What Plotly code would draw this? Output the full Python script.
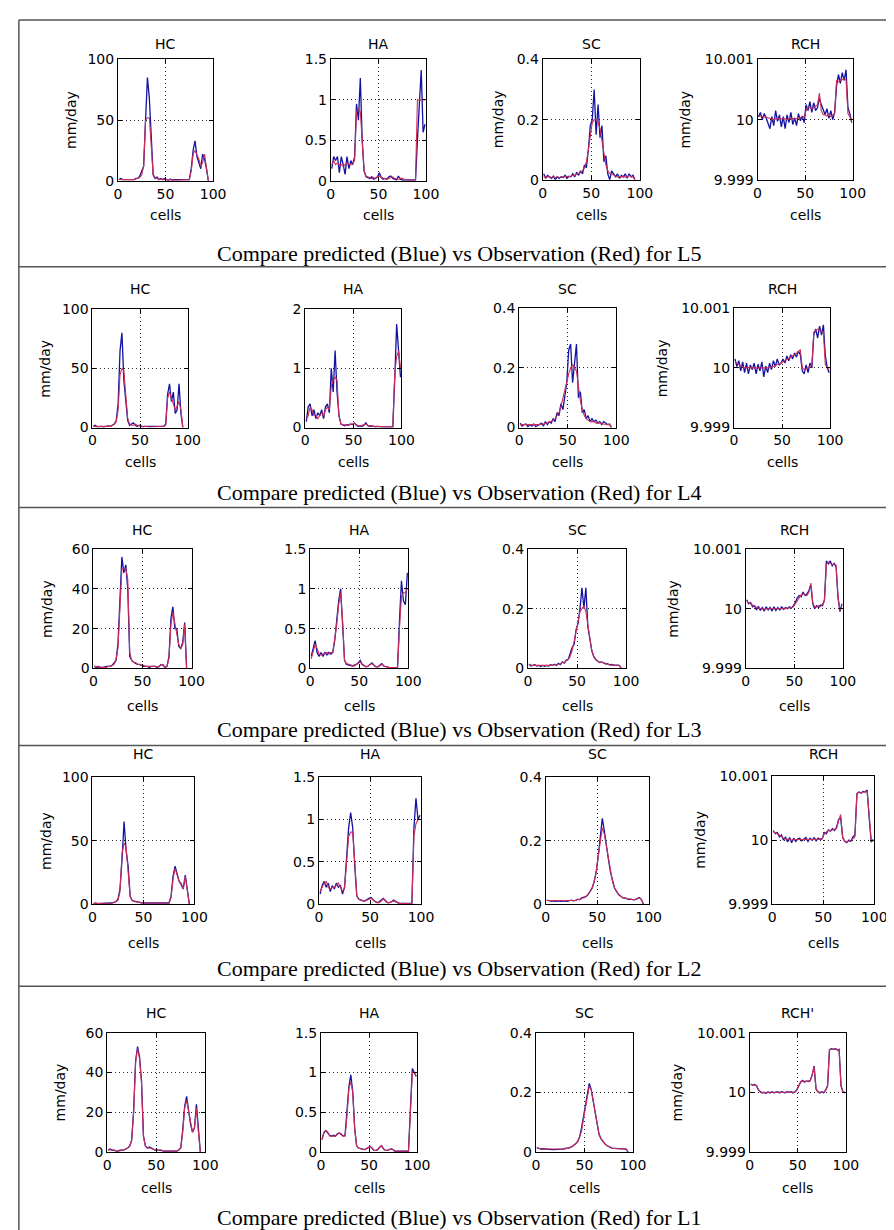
import plotly.graph_objects as go

W, H = 894, 1230

# ---------------- data ----------------
cells = list(range(1, 101, 2))
layers = ["L5", "L4", "L3", "L2", "L1"]
variables = ["HC", "HA", "SC", "RCH"]
titles_l1 = ["HC", "HA", "SC", "RCH'"]

x_ticks = [0, 50, 100]
hc_ticks_100 = [0, 50, 100]
hc_ticks_60 = [0, 20, 40, 60]
ha_ticks_15 = [0, 0.5, 1, 1.5]
ha_ticks_2 = [0, 1, 2]
sc_ticks = [0, 0.2, 0.4]
rch_ticks = [9.999, 10, 10.001]
rch_tick_labels = ["9.999", "10", "10.001"]

# ---- L5 ----
hc_l5_obs = [1, 1, 1, 0.5, 0.5, 0.5, 0.5, 1, 1, 1.5,
             2, 3, 5, 12, 50, 52, 52, 25, 5, 3,
             2, 1, 1.5, 1, 1, 1, 0.5, 1, 0.5, 0.5,
             0.5, 0.5, 0.5, 0.5, 0.5, 0.5, 0.5, 1, 8, 22,
             25, 22, 18, 12, 15, 22, 12, 0, None, None]
hc_l5_pred = [1, 2, 1, 1, 0.5, 1, 1, 0.5, 1, 2,
              2, 4, 8, 12, 50, 85, 68, 30, 5, 2,
              3, 1, 2, 1, 2, 1, 0.5, 1.5, 0.5, 1,
              1, 0.5, 0.5, 1, 0.5, 0.5, 1, 1, 10, 25,
              33, 20, 15, 10, 22, 18, 10, 0, None, None]
ha_l5_obs = [0.2, 0.25, 0.2, 0.22, 0.2, 0.2, 0.18, 0.2, 0.22, 0.2,
             0.2, 0.22, 0.25, 0.85, 0.9, 0.85, 0.5, 0.12, 0.06, 0.05,
             0.04, 0.03, 0.04, 0.03, 0.05, 0.06, 0.04, 0.03, 0.02, 0.02,
             0.03, 0.04, 0.05, 0.03, 0.02, 0.02, 0.03, 0.03, 0.02, 0.01,
             0.01, 0.01, 0.01, 0.01, 0.01, 1.0, 1.0, 1.0, 1.0, 1.0]
ha_l5_pred = [0.15, 0.3, 0.25, 0.3, 0.1, 0.3, 0.2, 0.08, 0.3, 0.15,
              0.25, 0.2, 0.3, 0.95, 0.75, 1.27, 0.5, 0.12, 0.05, 0.04,
              0.03, 0.05, 0.02, 0.03, 0.05, 0.1, 0.04, 0.02, 0.03, 0.02,
              0.05, 0.06, 0.03, 0.02, 0.01, 0.06, 0.02, 0.01, 0.01, 0.01,
              0.01, 0.01, 0.01, 0.01, 0.01, 0.5, 0.9, 1.37, 0.6, 0.7]
sc_l5_obs = [0.01, 0.01, 0.012, 0.01, 0.008, 0.01, 0.008, 0.01, 0.008, 0.008,
             0.01, 0.01, 0.012, 0.01, 0.012, 0.015, 0.015, 0.02, 0.02, 0.025,
             0.03, 0.04, 0.06, 0.1, 0.15, 0.19, 0.2, 0.2, 0.19, 0.17,
             0.13, 0.09, 0.05, 0.03, 0.02, 0.02, 0.015, 0.012, 0.01, 0.012,
             0.01, 0.01, 0.012, 0.01, 0.015, 0.01, 0.01, 0.0, None, None]
sc_l5_pred = [0.02, 0.005, 0.015, 0.01, 0.005, 0.012, 0.0, 0.01, 0.005, 0.01,
              0.008, 0.015, 0.005, 0.012, 0.01, 0.02, 0.01, 0.025, 0.015, 0.03,
              0.02, 0.05, 0.04, 0.1, 0.18, 0.2, 0.3, 0.15, 0.25, 0.14,
              0.18, 0.06, 0.08, 0.02, 0.0, 0.03, 0.02, 0.01, 0.02, 0.005,
              0.015, 0.01, 0.02, 0.005, 0.02, 0.01, 0.015, 0.0, None, None]
rch_l5_obs = [10.00005, 10.00006, 10.00005, 10.00005, 10.00004, 10.00003, 10.00002, 10.00001, 10.0, 10.00001,
              10.00002, 10.00002, 10.00001, 10.00002, 10.00001, 10.0, 10.00001, 10.00002, 10.00002, 10.00001,
              10.00002, 10.00002, 10.00003, 10.00004, 10.00005, 10.00015, 10.0002, 10.0002, 10.00018, 10.0002,
              10.00022, 10.00025, 10.00044, 10.00015, 10.00008, 10.00008, 10.00006, 10.00008, 10.00005, 10.00008,
              10.0001, 10.00065, 10.00063, 10.00065, 10.00066, 10.00068, 10.00066, 10.0001, 10.00005, 9.99997]
rch_l5_pred = [10.00005, 10.00012, 10.0, 10.0001, 10.00003, 9.99995, 9.99985, 10.00005, 9.9999, 10.00015,
               9.99997, 10.00008, 9.99988, 10.00005, 9.99985, 10.00008, 9.99995, 10.00012, 9.99992, 10.00003,
               9.9999, 10.0001, 9.99998, 10.00006, 9.99995, 10.00025, 10.00015, 10.0003, 10.00012, 10.00028,
               10.00015, 10.0002, 10.00035, 10.00025, 10.00015, 10.00008, 10.00018, 10.00002, 10.00015, 10.0,
               10.00012, 10.00055, 10.00075, 10.0006, 10.00078, 10.00065, 10.00083, 10.0002, 10.0001, 9.99995]

# ---- L4 ----
hc_l4_obs = [1, 1, 1, 0.5, 0.5, 0.5, 0.5, 1, 1, 1,
             2, 3, 5, 15, 45, 50, 48, 30, 8, 3,
             2, 2, 3, 2, 1.5, 1, 1, 1, 0.5, 0.5,
             0.5, 0.5, 0.5, 0.5, 0.5, 0.5, 0.5, 1, 2, 25,
             30, 25, 20, 15, 18, 22, 15, 0, None, None]
hc_l4_pred = [1, 2, 0.5, 1, 1, 0.5, 1, 1, 1.5, 1,
              2, 3, 6, 20, 65, 80, 40, 20, 6, 2,
              3, 4, 2, 1, 2, 1, 0.5, 1, 1, 0.5,
              1, 0.5, 1, 0.5, 0.5, 1, 0.5, 1, 3, 28,
              37, 22, 30, 12, 15, 37, 12, 0, None, None]
ha_l4_obs = [0.15, 0.2, 0.35, 0.3, 0.2, 0.2, 0.15, 0.2, 0.25, 0.2,
             0.3, 0.35, 0.3, 0.7, 0.8, 0.85, 0.8, 0.2, 0.06, 0.05,
             0.04, 0.04, 0.05, 0.05, 0.06, 0.07, 0.05, 0.03, 0.03, 0.04,
             0.05, 0.06, 0.04, 0.03, 0.02, 0.02, 0.02, 0.02, 0.01, 0.01,
             0.01, 0.01, 0.01, 0.01, 0.01, 0.01, 0.9, 1.2, 1.3, 1.0]
ha_l4_pred = [0.1, 0.35, 0.4, 0.2, 0.3, 0.15, 0.25, 0.2, 0.3, 0.15,
              0.35, 0.4, 0.25, 1.0, 0.6, 1.3, 0.6, 0.2, 0.06, 0.04,
              0.03, 0.05, 0.04, 0.06, 0.05, 0.08, 0.04, 0.02, 0.03, 0.02,
              0.04, 0.08, 0.03, 0.02, 0.03, 0.02, 0.01, 0.02, 0.01, 0.01,
              0.01, 0.01, 0.01, 0.01, 0.01, 0.01, 0.8, 1.75, 1.3, 0.85]
sc_l4_obs = [0.01, 0.01, 0.01, 0.008, 0.008, 0.01, 0.008, 0.01, 0.01, 0.01,
             0.01, 0.012, 0.012, 0.015, 0.015, 0.02, 0.02, 0.025, 0.03, 0.04,
             0.05, 0.07, 0.1, 0.12, 0.15, 0.18, 0.2, 0.21, 0.2, 0.19,
             0.14, 0.09, 0.06, 0.04, 0.03, 0.025, 0.02, 0.02, 0.02, 0.015,
             0.015, 0.015, 0.015, 0.012, 0.01, 0.01, 0.01, 0.0, None, None]
sc_l4_pred = [0.015, 0.005, 0.01, 0.012, 0.003, 0.01, 0.005, 0.012, 0.003, 0.008,
              0.01, 0.015, 0.005, 0.02, 0.01, 0.02, 0.015, 0.03, 0.02, 0.05,
              0.04, 0.08, 0.06, 0.1, 0.15, 0.26, 0.28, 0.15, 0.22, 0.28,
              0.1, 0.12, 0.05, 0.06, 0.03, 0.04, 0.02, 0.03, 0.02, 0.025,
              0.015, 0.02, 0.01, 0.02, 0.015, 0.01, 0.012, 0.0, None, None]
rch_l4_obs = [10.0001, 10.00008, 10.00006, 10.00004, 10.00002, 10.0, 10.0, 10.00001, 10.0, 10.0,
              10.0, 10.0, 10.0, 9.99999, 10.0, 10.0, 10.0, 10.0, 10.0, 10.00001,
              10.00002, 10.00004, 10.00006, 10.00006, 10.00008, 10.0001, 10.00012, 10.00014, 10.00016, 10.00018,
              10.0002, 10.00022, 10.00024, 10.00028, 10.0003, 10.0, 9.99997, 9.99998, 10.0, 10.00002,
              10.00005, 10.0006, 10.00062, 10.00065, 10.00063, 10.0006, 10.00058, 10.00005, 10.0, 9.99997]
rch_l4_pred = [10.00015, 10.00002, 10.00012, 9.99995, 10.0001, 9.99992, 10.00008, 9.9999, 10.00005, 9.99997,
               10.00008, 9.9999, 10.00006, 9.99995, 10.0001, 9.99985, 10.00003, 9.99992, 10.00008, 9.99997,
               10.00012, 10.00002, 10.00015, 10.00005, 10.00008, 10.00015, 10.00008, 10.0002, 10.00012, 10.00022,
               10.00015, 10.00025, 10.00018, 10.00028, 10.00022, 9.99995, 9.9999, 10.00005, 9.99992, 10.00008,
               10.0, 10.00055, 10.00065, 10.0005, 10.0007, 10.00055, 10.00072, 10.0002, 10.0, 9.99992]

# ---- L3 ----
hc_l3_obs = [1, 1, 0.5, 0.5, 0.5, 0.5, 0.5, 1, 1, 1.5,
             2, 4, 10, 30, 50, 50, 50, 45, 8, 4,
             3, 3, 2, 2, 1.5, 1.5, 1, 1, 1, 1,
             1, 1, 0.5, 1, 2, 2, 0.5, 1, 5, 22,
             28, 22, 18, 12, 10, 12, 22, 0, None, None]
hc_l3_pred = [1, 0.5, 1, 0.5, 0.5, 0.5, 1, 1, 1, 1.5,
              2.5, 4, 12, 35, 56, 48, 52, 40, 6, 4,
              3, 2.5, 2, 2, 1.5, 1, 1, 1, 0.5, 1,
              1, 1, 0.5, 1, 2, 1.5, 0.5, 1, 6, 25,
              31, 20, 20, 11, 10, 13, 23, 0, None, None]
ha_l3_obs = [0.12, 0.2, 0.3, 0.25, 0.18, 0.17, 0.18, 0.18, 0.2, 0.18,
             0.2, 0.2, 0.35, 0.55, 0.8, 0.95, 0.6, 0.1, 0.06, 0.05,
             0.04, 0.04, 0.03, 0.05, 0.06, 0.08, 0.05, 0.03, 0.02, 0.03,
             0.05, 0.06, 0.04, 0.02, 0.02, 0.04, 0.05, 0.03, 0.02, 0.01,
             0.01, 0.01, 0.01, 0.01, 0.01, 0.5, 0.9, 0.95, 0.95, 1.0]
ha_l3_pred = [0.15, 0.25, 0.35, 0.2, 0.15, 0.2, 0.15, 0.2, 0.17, 0.2,
              0.18, 0.2, 0.35, 0.6, 0.85, 1.0, 0.55, 0.1, 0.05, 0.04,
              0.04, 0.03, 0.04, 0.05, 0.07, 0.1, 0.05, 0.03, 0.02, 0.03,
              0.05, 0.07, 0.04, 0.02, 0.02, 0.04, 0.06, 0.03, 0.02, 0.01,
              0.01, 0.01, 0.01, 0.01, 0.01, 0.6, 1.1, 0.85, 0.8, 1.2]
sc_l3_obs = [0.012, 0.01, 0.01, 0.01, 0.01, 0.01, 0.008, 0.008, 0.008, 0.008,
             0.01, 0.01, 0.01, 0.012, 0.012, 0.015, 0.015, 0.02, 0.02, 0.025,
             0.03, 0.04, 0.06, 0.09, 0.12, 0.15, 0.19, 0.2, 0.21, 0.19,
             0.15, 0.1, 0.06, 0.04, 0.03, 0.025, 0.02, 0.02, 0.02, 0.015,
             0.015, 0.012, 0.012, 0.012, 0.01, 0.01, 0.01, 0.0, None, None]
sc_l3_pred = [0.015, 0.008, 0.01, 0.012, 0.008, 0.01, 0.006, 0.01, 0.007, 0.01,
              0.008, 0.012, 0.01, 0.014, 0.01, 0.017, 0.013, 0.022, 0.018, 0.028,
              0.03, 0.05, 0.07, 0.08, 0.13, 0.15, 0.2, 0.27, 0.2, 0.27,
              0.14, 0.1, 0.06, 0.04, 0.03, 0.025, 0.02, 0.022, 0.018, 0.015,
              0.016, 0.012, 0.013, 0.011, 0.01, 0.011, 0.01, 0.0, None, None]
rch_l3_obs = [10.00012, 10.0001, 10.00008, 10.00005, 10.00003, 10.00002, 10.00001, 10.0, 10.0, 9.99999,
              10.0, 10.0, 10.0, 9.99999, 10.0, 10.0, 10.0, 10.0, 10.0, 10.0,
              10.0, 10.00001, 10.00001, 10.00002, 10.00003, 10.00008, 10.00015, 10.0002, 10.00023, 10.00025,
              10.00024, 10.00022, 10.00028, 10.00043, 10.0001, 10.00003, 10.00003, 10.00005, 10.00004, 10.00008,
              10.00012, 10.00075, 10.00078, 10.00076, 10.00074, 10.00074, 10.00073, 10.0002, 9.99997, 10.00005]
rch_l3_pred = [10.00015, 10.00008, 10.0001, 10.00003, 10.00005, 9.99998, 10.00004, 9.99997, 10.00002, 9.99996,
               10.00003, 9.99998, 10.00002, 9.99996, 10.00003, 9.99997, 10.00002, 9.99998, 10.00003, 9.99999,
               10.00002, 10.0, 10.00003, 10.00001, 10.00005, 10.0001, 10.00018, 10.00022, 10.0002, 10.00028,
               10.00022, 10.00025, 10.0003, 10.0004, 10.00008, 10.0, 10.00005, 10.00002, 10.00006, 10.00005,
               10.00015, 10.0008, 10.00075, 10.0008, 10.00072, 10.00076, 10.0007, 10.00018, 9.99995, 10.00008]

# ---- L2 ----
hc_l2_obs = [0.5, 0.5, 0.5, 0.5, 0.5, 0.5, 0.5, 0.5, 1, 1,
             1.5, 2, 3, 10, 40, 48, 45, 25, 6, 3,
             2, 2, 2, 1.5, 1, 1, 1, 0.5, 1, 0.5,
             0.5, 1, 0.5, 0.5, 1, 0.5, 0.5, 1, 5, 20,
             28, 22, 18, 15, 12, 22, 10, 0, None, None]
hc_l2_pred = [0.5, 1, 0.5, 0.5, 1, 0.5, 0.5, 0.5, 1, 1,
              1.5, 2, 4, 12, 35, 65, 42, 30, 6, 3,
              2.5, 2, 2, 1.5, 1, 1, 1, 0.5, 1, 0.5,
              1, 0.5, 1, 0.5, 1, 0.5, 0.5, 1, 6, 22,
              30, 24, 18, 16, 12, 23, 10, 0, None, None]
ha_l2_obs = [0.15, 0.2, 0.25, 0.27, 0.2, 0.18, 0.2, 0.2, 0.22, 0.25,
             0.2, 0.15, 0.2, 0.5, 0.8, 0.85, 0.85, 0.5, 0.1, 0.06,
             0.05, 0.04, 0.04, 0.05, 0.06, 0.07, 0.05, 0.03, 0.02, 0.02,
             0.04, 0.06, 0.05, 0.02, 0.02, 0.03, 0.04, 0.03, 0.02, 0.01,
             0.01, 0.01, 0.01, 0.01, 0.01, 0.01, 0.8, 0.95, 1.0, 1.0]
ha_l2_pred = [0.12, 0.22, 0.27, 0.2, 0.25, 0.15, 0.22, 0.18, 0.25, 0.2,
              0.22, 0.12, 0.2, 0.55, 0.9, 1.08, 0.9, 0.45, 0.1, 0.06,
              0.05, 0.04, 0.04, 0.06, 0.07, 0.08, 0.05, 0.03, 0.02, 0.03,
              0.05, 0.07, 0.04, 0.02, 0.02, 0.03, 0.05, 0.03, 0.02, 0.01,
              0.01, 0.01, 0.01, 0.01, 0.01, 0.01, 0.9, 1.25, 1.0, 1.05]
sc_l2_obs = [0.012, 0.012, 0.01, 0.01, 0.01, 0.01, 0.01, 0.01, 0.01, 0.01,
             0.01, 0.01, 0.012, 0.012, 0.012, 0.015, 0.015, 0.02, 0.02, 0.025,
             0.03, 0.04, 0.05, 0.07, 0.1, 0.15, 0.2, 0.24, 0.22, 0.18,
             0.14, 0.1, 0.07, 0.05, 0.04, 0.03, 0.025, 0.02, 0.02, 0.018,
             0.015, 0.015, 0.015, 0.015, 0.018, 0.02, 0.015, 0.0, None, None]
sc_l2_pred = [0.013, 0.011, 0.01, 0.011, 0.009, 0.01, 0.011, 0.009, 0.01, 0.011,
              0.009, 0.01, 0.013, 0.011, 0.012, 0.016, 0.014, 0.02, 0.021, 0.024,
              0.03, 0.04, 0.05, 0.07, 0.1, 0.15, 0.21, 0.27, 0.23, 0.18,
              0.14, 0.1, 0.07, 0.05, 0.04, 0.03, 0.025, 0.02, 0.02, 0.018,
              0.015, 0.016, 0.014, 0.015, 0.018, 0.021, 0.015, 0.0, None, None]
rch_l2_obs = [10.00013, 10.00012, 10.0001, 10.00008, 10.00005, 10.00003, 10.00002, 10.00001, 10.00001, 10.0,
              10.00001, 10.00001, 10.0, 10.00001, 10.00001, 10.00001, 10.00001, 10.0, 10.00001, 10.00001,
              10.00002, 10.00001, 10.00001, 10.00002, 10.00003, 10.0001, 10.00013, 10.00015, 10.00015, 10.00016,
              10.00017, 10.00018, 10.0003, 10.0004, 10.00003, 9.99999, 9.99997, 9.99998, 10.0, 10.00002,
              10.00005, 10.00073, 10.00075, 10.00074, 10.00075, 10.00076, 10.00076, 10.0004, 9.99998, 10.0]
rch_l2_pred = [10.00015, 10.0001, 10.00012, 10.00005, 10.00008, 10.0, 10.00005, 9.99997, 10.00004, 9.99996,
               10.00003, 9.99998, 10.00002, 10.00003, 9.99999, 10.00002, 10.00004, 9.99998, 10.00003, 10.0,
               10.00004, 9.99999, 10.00003, 10.00001, 10.00002, 10.00012, 10.0001, 10.00016, 10.00014, 10.00018,
               10.00015, 10.0002, 10.00032, 10.00035, 10.00005, 9.99998, 9.99996, 10.0, 9.99998, 10.00005,
               10.00008, 10.00072, 10.00075, 10.00073, 10.00076, 10.00075, 10.00078, 10.00035, 9.99997, 10.00001]

# ---- L1 ----
hc_l1_obs = [1, 1, 1, 1, 0.5, 0.5, 0.5, 1, 1, 1.5,
             2, 3, 6, 20, 45, 52, 47, 35, 8, 3,
             2, 2, 2, 1.5, 1, 1, 1, 1, 0.5, 0.5,
             0.5, 0.5, 0.5, 0.5, 0.5, 0.5, 1, 2, 10, 22,
             26, 20, 14, 10, 12, 22, 10, 0, None, None]
hc_l1_pred = [1, 1.5, 1, 1, 0.5, 0.5, 1, 1, 1, 1.5,
              2, 3, 6, 21, 46, 53, 48, 36, 8, 3,
              2, 2.5, 2, 1.5, 1, 1, 1, 1, 0.5, 0.5,
              0.5, 0.5, 0.5, 0.5, 0.5, 0.5, 1, 2, 11, 23,
              28, 20, 14, 10, 12, 24, 10, 0, None, None]
ha_l1_obs = [0.15, 0.25, 0.27, 0.25, 0.2, 0.2, 0.2, 0.2, 0.22, 0.24,
             0.23, 0.2, 0.2, 0.45, 0.8, 0.88, 0.75, 0.3, 0.08, 0.05,
             0.04, 0.03, 0.03, 0.04, 0.06, 0.07, 0.05, 0.02, 0.02, 0.03,
             0.06, 0.08, 0.04, 0.02, 0.02, 0.03, 0.04, 0.03, 0.01, 0.01,
             0.01, 0.01, 0.01, 0.01, 0.01, 0.01, 0.5, 1.0, 1.0, 0.95]
ha_l1_pred = [0.16, 0.24, 0.27, 0.24, 0.21, 0.2, 0.21, 0.2, 0.23, 0.24,
              0.22, 0.2, 0.21, 0.47, 0.82, 0.97, 0.76, 0.3, 0.08, 0.05,
              0.04, 0.03, 0.03, 0.04, 0.06, 0.07, 0.05, 0.02, 0.02, 0.03,
              0.06, 0.08, 0.04, 0.02, 0.02, 0.03, 0.04, 0.03, 0.01, 0.01,
              0.01, 0.01, 0.01, 0.01, 0.01, 0.01, 0.55, 1.05, 1.0, 0.95]
sc_l1_obs = [0.015, 0.012, 0.01, 0.01, 0.01, 0.01, 0.008, 0.008, 0.008, 0.008,
             0.008, 0.008, 0.01, 0.01, 0.01, 0.012, 0.012, 0.015, 0.018, 0.022,
             0.028, 0.035, 0.05, 0.07, 0.11, 0.15, 0.19, 0.22, 0.21, 0.17,
             0.13, 0.09, 0.06, 0.045, 0.035, 0.028, 0.022, 0.018, 0.015, 0.012,
             0.012, 0.012, 0.012, 0.012, 0.012, 0.01, 0.01, 0.0, None, None]
sc_l1_pred = [0.015, 0.012, 0.01, 0.011, 0.01, 0.01, 0.008, 0.009, 0.008, 0.008,
              0.008, 0.009, 0.01, 0.01, 0.011, 0.012, 0.012, 0.015, 0.018, 0.022,
              0.028, 0.035, 0.05, 0.08, 0.12, 0.16, 0.2, 0.23, 0.21, 0.17,
              0.13, 0.09, 0.06, 0.045, 0.035, 0.028, 0.022, 0.018, 0.015, 0.012,
              0.012, 0.012, 0.012, 0.012, 0.012, 0.01, 0.01, 0.0, None, None]
rch_l1_obs = [10.00013, 10.00013, 10.00012, 10.00012, 10.00005, 10.0, 10.0, 9.99999, 9.99999, 10.0,
              9.99999, 10.0, 10.0, 9.99999, 10.0, 10.0, 10.0, 10.0, 10.0, 10.0,
              10.0, 10.0, 10.0, 10.0, 10.00003, 10.0001, 10.00018, 10.00019, 10.00018, 10.00018,
              10.00019, 10.00019, 10.0003, 10.00043, 10.00005, 10.0, 10.0, 10.0, 10.0, 10.00003,
              10.0001, 10.00072, 10.00072, 10.00073, 10.00072, 10.00072, 10.00071, 10.0001, 10.0, 10.0]
rch_l1_pred = [10.00014, 10.00012, 10.00013, 10.00011, 10.00004, 10.00001, 9.99999, 10.0, 9.99998, 10.00001,
               9.99999, 10.00001, 9.99999, 10.0, 10.00001, 9.99999, 10.00001, 10.0, 9.99999, 10.00001,
               10.0, 10.00001, 9.99999, 10.00001, 10.00004, 10.00011, 10.00017, 10.0002, 10.00017, 10.00019,
               10.00018, 10.0002, 10.00029, 10.00044, 10.00006, 10.00001, 9.99999, 10.00001, 9.99999, 10.00004,
               10.00011, 10.00071, 10.00073, 10.00072, 10.00073, 10.00071, 10.00072, 10.00011, 10.00001, 9.99999]

series = {
    "L5": [(hc_l5_obs, hc_l5_pred), (ha_l5_obs, ha_l5_pred), (sc_l5_obs, sc_l5_pred), (rch_l5_obs, rch_l5_pred)],
    "L4": [(hc_l4_obs, hc_l4_pred), (ha_l4_obs, ha_l4_pred), (sc_l4_obs, sc_l4_pred), (rch_l4_obs, rch_l4_pred)],
    "L3": [(hc_l3_obs, hc_l3_pred), (ha_l3_obs, ha_l3_pred), (sc_l3_obs, sc_l3_pred), (rch_l3_obs, rch_l3_pred)],
    "L2": [(hc_l2_obs, hc_l2_pred), (ha_l2_obs, ha_l2_pred), (sc_l2_obs, sc_l2_pred), (rch_l2_obs, rch_l2_pred)],
    "L1": [(hc_l1_obs, hc_l1_pred), (ha_l1_obs, ha_l1_pred), (sc_l1_obs, sc_l1_pred), (rch_l1_obs, rch_l1_pred)],
}
y_tick_sets = {
    "L5": [hc_ticks_100, ha_ticks_15, sc_ticks, rch_ticks],
    "L4": [hc_ticks_100, ha_ticks_2, sc_ticks, rch_ticks],
    "L3": [hc_ticks_60, ha_ticks_15, sc_ticks, rch_ticks],
    "L2": [hc_ticks_100, ha_ticks_15, sc_ticks, rch_ticks],
    "L1": [hc_ticks_60, ha_ticks_15, sc_ticks, rch_ticks],
}

# ---------------- layout (pixel geometry) ----------------
rows = [
    dict(boxes=[(108, 205, 44, 167), (325, 422, 44, 167), (541, 640, 44, 166), (760, 857, 44, 166)],
         title_y=28, cells_y=202, caption_y=241, ylab=[True, False, True, True]),
    dict(boxes=[(82, 179, 297, 417), (299, 397, 297, 417), (517, 616, 296, 417), (736, 834, 296, 417)],
         title_y=277, cells_y=452, caption_y=483, ylab=[True, False, False, True]),
    dict(boxes=[(83, 183, 540, 661), (304, 404, 540, 661), (526, 626, 540, 661), (748, 847, 540, 661)],
         title_y=521, cells_y=699, caption_y=723, ylab=[True, False, False, True]),
    dict(boxes=[(82, 186, 771, 900), (313, 417, 771, 900), (544, 649, 771, 900), (775, 879, 770, 900)],
         title_y=748, cells_y=939, caption_y=965, ylab=[True, False, False, True]),
    dict(boxes=[(97, 197, 1030, 1151), (315, 413, 1030, 1151), (534, 633, 1030, 1151), (752, 850, 1030, 1151)],
         title_y=1010, cells_y=1187, caption_y=1217, ylab=[True, False, False, True]),
]
ylab_offset = [48, 48, 46, 74]

BLUE = "#1212a0"
RED = "#d02c58"
FONT = "DejaVu Sans"
FS = 14

fig = go.Figure()
layout = dict(width=W, height=H, margin=dict(l=0, r=0, t=0, b=0),
              paper_bgcolor="white", plot_bgcolor="white", showlegend=False)
annotations = []
shapes = []

def px_x(v):
    return v / W

def px_y(v):
    return 1 - v / H

k = 0
for r, layer in enumerate(layers):
    row = rows[r]
    for c, var in enumerate(variables):
        k += 1
        x0, x1, y0, y1 = row["boxes"][c]
        obs, pred = series[layer][c]
        ticks = y_tick_sets[layer][c]
        xa = "x" if k == 1 else f"x{k}"
        ya = "y" if k == 1 else f"y{k}"
        fig.add_trace(go.Scatter(x=cells, y=pred, mode="lines", xaxis=xa, yaxis=ya,
                                 line=dict(color=BLUE, width=1.3), connectgaps=False,
                                 name="Predicted"))
        fig.add_trace(go.Scatter(x=cells, y=obs, mode="lines", xaxis=xa, yaxis=ya,
                                 line=dict(color=RED, width=1.1), connectgaps=False,
                                 name="Observation"))
        common = dict(showline=True, linecolor="black", linewidth=1, mirror="ticks",
                      ticks="inside", ticklen=4, tickcolor="black", tickwidth=1,
                      showgrid=True, gridcolor="#222222", griddash="1px,3px", gridwidth=1,
                      zeroline=False, tickfont=dict(family=FONT, size=FS, color="black"),
                      fixedrange=True)
        xkey = "xaxis" if k == 1 else f"xaxis{k}"
        ykey = "yaxis" if k == 1 else f"yaxis{k}"
        layout[xkey] = dict(common, domain=[px_x(x0), px_x(x1)], anchor=ya,
                            range=[0, 100], tickmode="array", tickvals=x_ticks)
        yax = dict(common, domain=[px_y(y1), px_y(y0)], anchor=xa,
                   range=[ticks[0], ticks[-1]], tickmode="array", tickvals=ticks)
        if var == "RCH":
            yax["ticktext"] = rch_tick_labels
        layout[ykey] = yax
        title = titles_l1[c] if layer == "L1" else var
        annotations.append(dict(text=title, x=px_x((x0 + x1) / 2), y=px_y(row["title_y"]),
                                xref="paper", yref="paper", xanchor="center", yanchor="middle",
                                showarrow=False, font=dict(family=FONT, size=FS, color="black")))
        annotations.append(dict(text="cells", x=px_x((x0 + x1) / 2), y=px_y(row["cells_y"]),
                                xref="paper", yref="paper", xanchor="center", yanchor="middle",
                                showarrow=False, font=dict(family=FONT, size=FS, color="black")))
        if row["ylab"][c]:
            annotations.append(dict(text="mm/day", x=px_x(x0 - ylab_offset[c]), y=px_y((y0 + y1) / 2),
                                    xref="paper", yref="paper", xanchor="center", yanchor="middle",
                                    textangle=-90, showarrow=False,
                                    font=dict(family=FONT, size=FS, color="black")))
    annotations.append(dict(text=f"Compare predicted (Blue) vs Observation (Red) for {layer}",
                            x=px_x(456), y=px_y(row["caption_y"]), xref="paper", yref="paper",
                            xanchor="center", yanchor="middle", showarrow=False,
                            font=dict(family="Liberation Serif", size=22, color="black")))

frame_col = "#555555"
for yy in [4, 254, 498, 739, 983]:
    shapes.append(dict(type="line", xref="paper", yref="paper", x0=px_x(7), x1=px_x(893),
                       y0=px_y(yy), y1=px_y(yy), line=dict(color=frame_col, width=1.5)))
shapes.append(dict(type="line", xref="paper", yref="paper", x0=px_x(7), x1=px_x(7),
                   y0=px_y(4), y1=px_y(1230), line=dict(color=frame_col, width=1.5)))
shapes.append(dict(type="line", xref="paper", yref="paper", x0=px_x(893), x1=px_x(893),
                   y0=px_y(4), y1=px_y(983), line=dict(color=frame_col, width=1.5)))

layout["annotations"] = annotations
layout["shapes"] = shapes
fig.update_layout(**layout)
fig.write_html("out.html")
